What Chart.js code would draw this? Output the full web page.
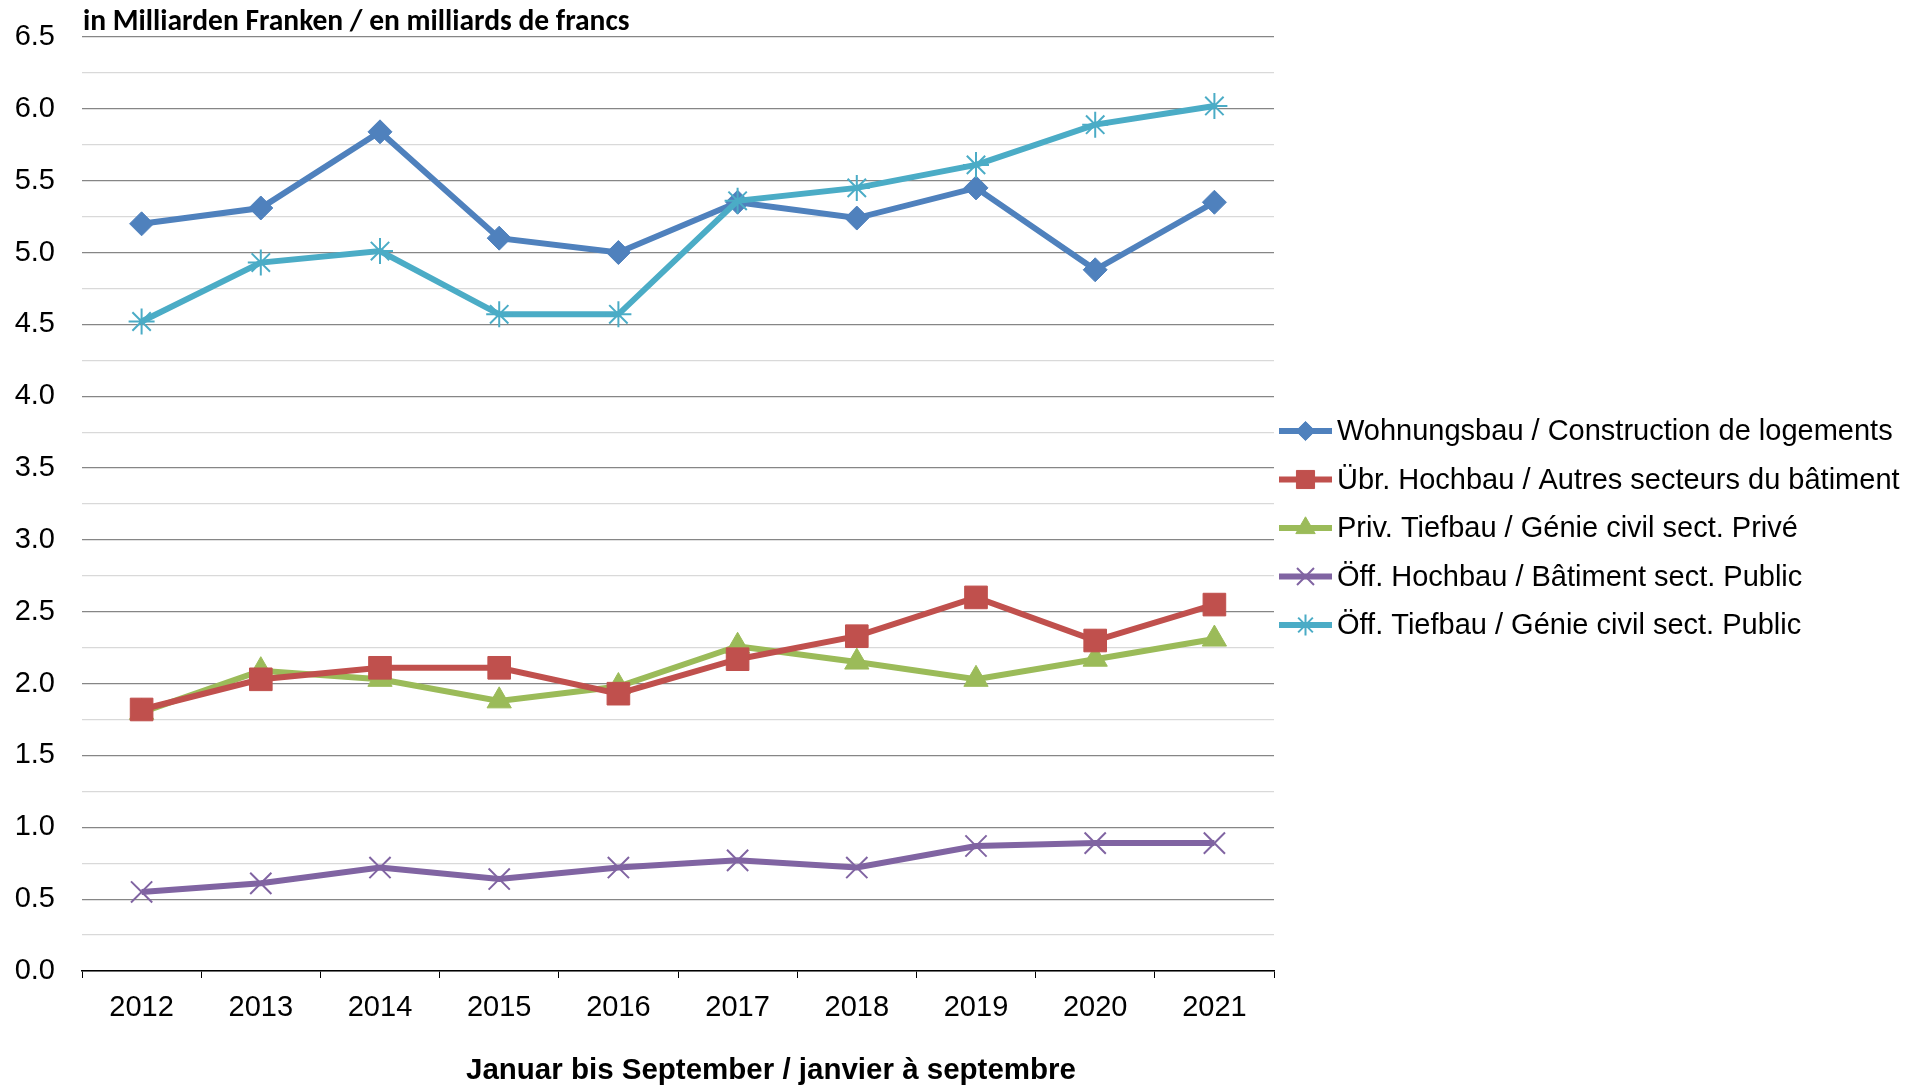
<!DOCTYPE html>
<html lang="de">
<head>
  <meta charset="UTF-8">
  <title>Bauinvestitionen</title>
  <script src="https://cdn.jsdelivr.net/npm/chart.js"></script>
  <style>
    body { margin: 0; background: #fff; }
    #wrap { width: 1913px; height: 1085px; }
  </style>
</head>
<body>
<div id="wrap"><canvas id="chart" width="1913" height="1085"></canvas></div>
<script>
  // Jahre (Januar bis September)
  const years = ['2012', '2013', '2014', '2015', '2016', '2017', '2018', '2019', '2020', '2021'];

  // Werte in Milliarden Franken
  const wohnungsbau = [5.20, 5.31, 5.84, 5.10, 5.00, 5.35, 5.24, 5.45, 4.88, 5.35];
  const uebrHochbau = [1.82, 2.03, 2.11, 2.11, 1.93, 2.17, 2.33, 2.60, 2.30, 2.55];
  const privTiefbau = [1.80, 2.09, 2.03, 1.88, 1.98, 2.26, 2.15, 2.03, 2.17, 2.31];
  const oeffHochbau = [0.55, 0.61, 0.72, 0.64, 0.72, 0.77, 0.72, 0.87, 0.89, 0.89];
  const oeffTiefbau = [4.52, 4.93, 5.01, 4.57, 4.57, 5.36, 5.45, 5.61, 5.89, 6.02];

  const seriesNames = [
    'Wohnungsbau / Construction de logements',
    'Übr. Hochbau / Autres secteurs du bâtiment',
    'Priv. Tiefbau / Génie civil sect. Privé',
    'Öff. Hochbau / Bâtiment sect. Public',
    'Öff. Tiefbau / Génie civil sect. Public'
  ];

  const yMin = 0, yMax = 6.5, yStep = 0.25;
  const yTitle = 'in Milliarden Franken / en milliards de francs';
  const xTitle = 'Januar bis September / janvier à septembre';

  const FONT = '"Liberation Sans", Arial, sans-serif';

  function isMajor(v) {
    return Math.abs(v * 2 - Math.round(v * 2)) < 1e-6;
  }

  function makeSet(label, data, color, style, radius, bw) {
    return {
      label: label,
      data: data,
      borderColor: color,
      backgroundColor: color,
      borderWidth: 6,
      pointStyle: style,
      pointRadius: radius,
      pointBorderWidth: bw,
      pointBackgroundColor: color,
      pointBorderColor: color,
      tension: 0
    };
  }

  const datasets = [
    makeSet(seriesNames[0], wohnungsbau, '#4F81BD', 'rectRot', 12, 1),
    makeSet(seriesNames[1], uebrHochbau, '#C0504D', 'rect', 16, 1),
    makeSet(seriesNames[2], privTiefbau, '#9BBB59', 'triangle', 14, 1),
    makeSet(seriesNames[3], oeffHochbau, '#8064A2', 'crossRot', 15, 2),
    makeSet(seriesNames[4], oeffTiefbau, '#4BACC6', 'star', 13, 2)
  ];
  // draw order: later datasets on top, like the original
  datasets[0].order = 2;
  datasets[4].order = 1;

  // titles and legend drawn by hand
  const extras = {
    id: 'extras',
    afterDraw(chart) {
      const ctx = chart.ctx;
      const area = chart.chartArea;
      ctx.save();
      // y title top left
      ctx.fillStyle = '#000';
      ctx.font = 'bold 29.5px Carlito, Lato, sans-serif';
      ctx.textAlign = 'left';
      ctx.textBaseline = 'alphabetic';
      ctx.fillText(yTitle, area.left + 1, 30);
      // x title
      ctx.font = 'bold 29.5px ' + FONT;
      ctx.textAlign = 'center';
      ctx.fillText(xTitle, area.left + area.width * 0.578, 1079);
      // legend
      chart.data.datasets.forEach(function (ds, i) {
        const y = 431 + i * 48.5;
        const x0 = area.right + 5;
        ctx.strokeStyle = ds.borderColor;
        ctx.lineWidth = 6;
        ctx.beginPath();
        ctx.moveTo(x0, y);
        ctx.lineTo(x0 + 53, y);
        ctx.stroke();
        ctx.fillStyle = ds.borderColor;
        ctx.lineWidth = ds.pointBorderWidth;
        Chart.helpers.drawPoint(ctx, {
          pointStyle: ds.pointStyle,
          radius: ds.pointRadius * 0.8,
          borderWidth: ds.pointBorderWidth,
          rotation: 0
        }, x0 + 26.5, y);
        ctx.fillStyle = '#000';
        ctx.font = '29px ' + FONT;
        ctx.textAlign = 'left';
        ctx.textBaseline = 'middle';
        ctx.fillText(ds.label, x0 + 58, y + 1);
      });
      ctx.restore();
    }
  };

  new Chart(document.getElementById('chart'), {
    type: 'line',
    data: { labels: years, datasets: datasets },
    options: {
      responsive: false,
      animation: false,
      layout: { padding: { top: 37, right: 639, bottom: 0, left: 0 } },
      plugins: {
        legend: { display: false },
        tooltip: { enabled: false }
      },
      scales: {
        x: {
          offset: true,
          grid: {
            offset: true,
            drawOnChartArea: false,
            drawTicks: true,
            tickLength: 7,
            color: '#000',
            lineWidth: 1
          },
          border: { display: true, color: '#000', width: 1.5 },
          ticks: {
            color: '#000',
            font: { family: FONT, size: 29 },
            padding: 13,
            maxRotation: 0
          },
          afterFit(scale) { scale.height = 114; }
        },
        y: {
          min: yMin,
          max: yMax,
          border: { display: false },
          grid: {
            drawTicks: false,
            color: c => (c.tick && isMajor(c.tick.value)) ? '#868686' : '#D9D9D9',
            lineWidth: 1.2
          },
          ticks: {
            stepSize: yStep,
            autoSkip: false,
            color: '#000',
            padding: 27,
            font: { family: FONT, size: 29, lineHeight: 1 },
            callback: v => isMajor(v) ? v.toFixed(1) : ''
          },
          afterFit(scale) {
            scale.width = 82;
            scale.paddingTop = 0;
            scale.paddingBottom = 0;
          }
        }
      }
    },
    plugins: [extras]
  });
</script>
</body>
</html>
